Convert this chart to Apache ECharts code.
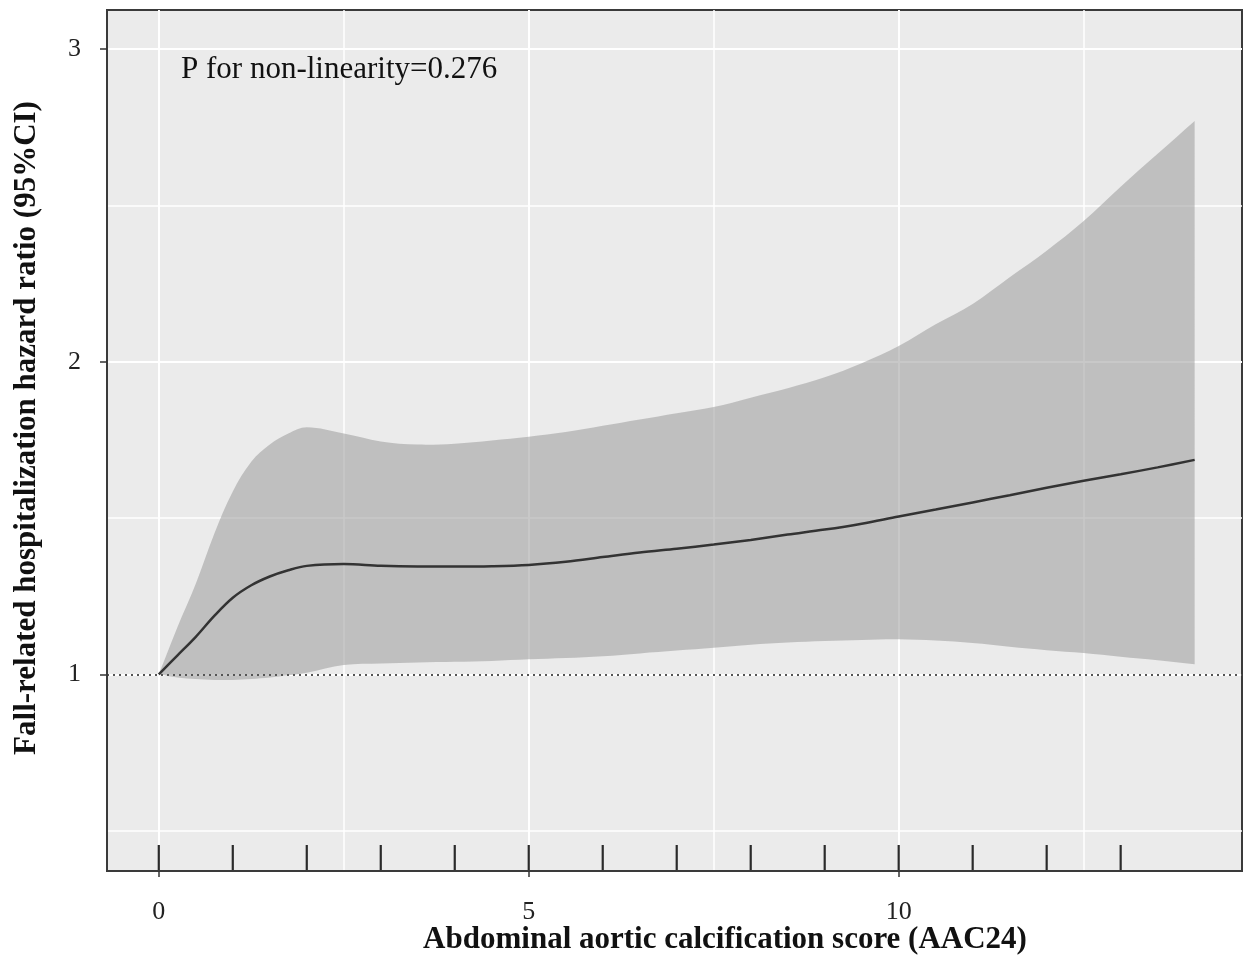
<!DOCTYPE html>
<html>
<head>
<meta charset="utf-8">
<script src="https://cdn.jsdelivr.net/npm/echarts@6/dist/echarts.min.js"></script>
<style>
  html, body { margin: 0; padding: 0; background: #ffffff; }
  #chart { width: 1254px; height: 961px; }
</style>
</head>
<body>
<div id="chart"></div>
<script>
// ---- data ----
const xValues = [0, 0.25, 0.5, 0.75, 1, 1.25, 1.5, 1.75, 2, 2.5, 3, 3.5, 4, 4.5, 5, 5.5, 6, 6.5, 7, 7.5, 8, 8.5, 9, 9.5, 10, 10.5, 11, 11.5, 12, 12.5, 13, 13.5, 14];
const hrValues = [1.00, 1.06, 1.12, 1.187, 1.245, 1.285, 1.313, 1.333, 1.347, 1.353, 1.347, 1.345, 1.345, 1.346, 1.35, 1.36, 1.375, 1.39, 1.402, 1.415, 1.43, 1.447, 1.463, 1.482, 1.505, 1.527, 1.55, 1.573, 1.597, 1.619, 1.64, 1.662, 1.686];
const upperValues = [1.00, 1.15, 1.29, 1.45, 1.585, 1.68, 1.735, 1.77, 1.79, 1.77, 1.745, 1.735, 1.738, 1.748, 1.76, 1.775, 1.795, 1.815, 1.835, 1.855, 1.885, 1.915, 1.95, 1.995, 2.05, 2.12, 2.185, 2.27, 2.355, 2.45, 2.56, 2.665, 2.77];
const lowerValues = [1.00, 0.99, 0.985, 0.982, 0.982, 0.985, 0.99, 0.997, 1.005, 1.03, 1.035, 1.038, 1.04, 1.043, 1.048, 1.052, 1.058, 1.067, 1.076, 1.085, 1.095, 1.102, 1.107, 1.11, 1.112, 1.108, 1.1, 1.088, 1.077, 1.068, 1.056, 1.045, 1.032];
const rugValues = [0, 1, 2, 3, 4, 5, 6, 7, 8, 9, 10, 11, 12, 13];
const xTickLabels = [0, 5, 10];
const yTickLabels = [1, 2, 3];
const xGridLines = [0, 2.5, 5, 7.5, 10, 12.5];
const yGridLines = [0.5, 1, 1.5, 2, 2.5, 3];
const referenceHR = 1;
const annotationText = 'P for non-linearity=0.276';
const xTitle = 'Abdominal aortic calcification score (AAC24)';
const yTitle = 'Fall-related hospitalization hazard ratio (95%CI)';

// ---- build chart ----
const X_MIN = -0.7, X_MAX = 14.64, Y_MIN = 0.371, Y_MAX = 3.125;
const serif = '"Liberation Serif", "DejaVu Serif", serif';

const hrData = xValues.map((x, i) => [x, hrValues[i]]);

const chart = echarts.init(document.getElementById('chart'), null, { renderer: 'canvas' });

const option = {
  animation: false,
  backgroundColor: '#ffffff',
  grid: {
    left: 107, right: 12, top: 10, bottom: 90,
    show: true,
    backgroundColor: '#ebebeb',
    borderColor: '#3a3a3a',
    borderWidth: 2,
    z: 0
  },
  xAxis: {
    type: 'value',
    min: X_MIN, max: X_MAX,
    z: 8,
    axisLine: { show: true, onZero: false, lineStyle: { color: '#3a3a3a', width: 2 } },
    axisTick: { show: true, customValues: xTickLabels, length: 6, lineStyle: { color: '#333', width: 1.5 } },
    axisLabel: { customValues: xTickLabels, margin: 28, fontFamily: serif, fontSize: 26, color: '#222' },
    splitLine: { show: false }
  },
  yAxis: {
    type: 'value',
    min: Y_MIN, max: Y_MAX,
    z: 8,
    axisLine: { show: true, onZero: false, lineStyle: { color: '#3a3a3a', width: 2 } },
    axisTick: { show: true, customValues: yTickLabels, length: 7, lineStyle: { color: '#333', width: 1.5 } },
    axisLabel: { customValues: yTickLabels, margin: 26, fontFamily: serif, fontSize: 26, color: '#222' },
    splitLine: { show: false }
  },
  graphic: [
    {
      type: 'text', left: 181, top: 54, z: 100,
      style: { text: annotationText, fontFamily: serif, fontSize: 31, fill: '#111' }
    },
    {
      type: 'text', x: 725, y: 940, z: 100,
      style: { text: xTitle, fontFamily: serif, fontSize: 31, fontWeight: 'bold', fill: '#111', align: 'center', verticalAlign: 'middle' }
    },
    {
      type: 'text', x: 27, y: 428, rotation: Math.PI / 2, z: 100,
      style: { text: yTitle, fontFamily: serif, fontSize: 31, fontWeight: 'bold', fill: '#111', align: 'center', verticalAlign: 'middle' }
    }
  ],
  series: [
    {
      // white panel grid lines
      type: 'line',
      z: 1,
      data: [[X_MIN, Y_MIN]],
      symbol: 'none',
      lineStyle: { opacity: 0 },
      silent: true,
      markLine: {
        z: 1,
        silent: true,
        symbol: 'none',
        label: { show: false },
        animation: false,
        data: [
          ...yGridLines.map(v => ({ yAxis: v, lineStyle: { color: '#ffffff', width: Number.isInteger(v) ? 2 : 1.5, type: 'solid' } })),
          ...xGridLines.map(v => ({ xAxis: v, lineStyle: { color: '#ffffff', width: (v % 5 === 0) ? 2 : 1.5, type: 'solid' } }))
        ]
      }
    },
    {
      // 95% CI band as one polygon: upper edge forward, lower edge backward
      type: 'custom',
      z: 2,
      silent: true,
      data: [[0]],
      renderItem: function (params, api) {
        const n = xValues.length;
        const pts = [];
        for (let i = 0; i < n; i++) pts.push(api.coord([xValues[i], upperValues[i]]));
        pts.push(pts[pts.length - 1].slice());
        const low = [];
        for (let i = n - 1; i >= 0; i--) low.push(api.coord([xValues[i], lowerValues[i]]));
        pts.push(low[0].slice());
        for (let k = 0; k < low.length; k++) pts.push(low[k]);
        return {
          type: 'polygon',
          shape: { points: pts, smooth: 0.35 },
          style: { fill: 'rgba(155,155,155,0.55)', stroke: null }
        };
      }
    },
    {
      type: 'line',
      z: 3,
      data: hrData,
      symbol: 'none',
      smooth: 0.35,
      lineStyle: { color: '#333333', width: 2.5 },
      markLine: {
        z: 4,
        silent: true,
        symbol: 'none',
        label: { show: false },
        animation: false,
        lineStyle: { color: '#555555', width: 1.8, type: [2, 4] },
        data: [{ yAxis: referenceHR }]
      }
    },
    {
      type: 'custom',
      z: 6,
      data: rugValues.map(v => [v]),
      silent: true,
      renderItem: function (params, api) {
        const p = api.coord([api.value(0), Y_MIN]);
        return {
          type: 'line',
          shape: { x1: p[0], y1: p[1], x2: p[0], y2: p[1] - 26 },
          style: { stroke: '#2a2a2a', lineWidth: 2.2 }
        };
      }
    }
  ]
};
chart.setOption(option);
</script>
</body>
</html>
